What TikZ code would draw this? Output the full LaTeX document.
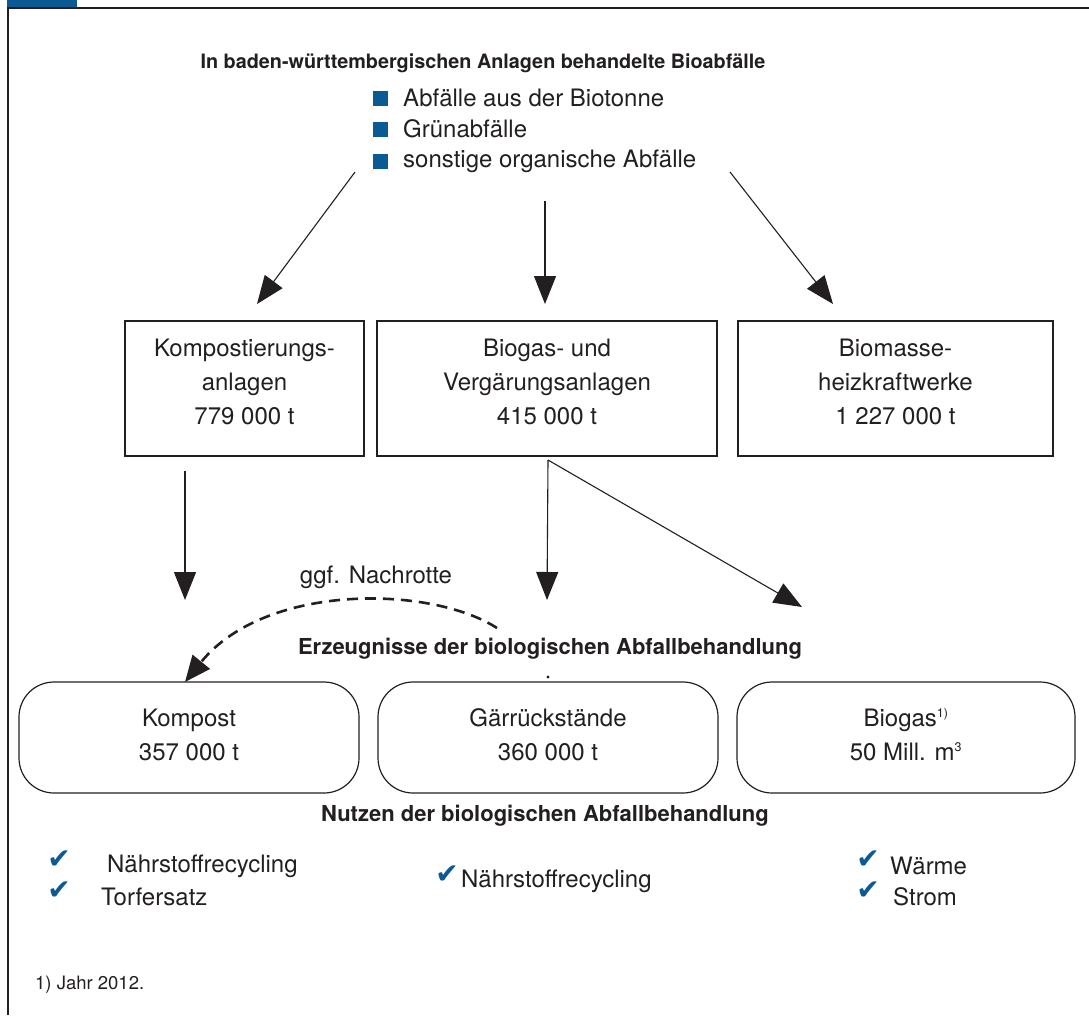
\documentclass[tikz,border=0pt]{standalone}
\usepackage{fontspec}
\setmainfont{TeX Gyre Heros}
\newfontfamily\symfont{DejaVu Sans}
\usetikzlibrary{arrows.meta,calc}
\definecolor{ink}{HTML}{231F20}
\definecolor{blu}{HTML}{0B5A94}
\begin{document}
\begin{tikzpicture}[x=1pt,y=-1pt,
  txt/.style={text=ink, font=\fontsize{24}{34}\selectfont, inner sep=0pt, align=center},
  btxt/.style={text=ink, font=\fontsize{22}{26}\selectfont\bfseries, inner sep=0pt},
  box/.style={draw=ink, line width=1.2pt, inner sep=0pt},
  rbox/.style={box, rounded corners=35pt},
  arr/.style={draw=ink, line width=1.1pt, -{Triangle[length=28pt,width=22pt]}},
  chk/.style={text=blu, font=\symfont\fontsize{28}{28}\selectfont, inner sep=0pt},
  sq/.style={fill=blu, minimum size=15pt, inner sep=0pt}
]
\useasboundingbox (0,0) rectangle (1089,1015);
% frame
\fill[blu] (7,0) rectangle (77,7);
\draw[ink, line width=1.5pt] (8,1015) -- (8,8) -- (1089,8);

% title and bullets
\node[btxt, font=\fontsize{19.8}{26}\selectfont\bfseries] (title) at (483,63) {In baden-württembergischen Anlagen behandelte Bioabfälle};
\node[sq] (s1) at (380,98) {};
\node[sq] (s2) at (380,129) {};
\node[sq] (s3) at (380,161) {};
\node[txt, anchor=west] (l1) at (403,98) {Abfälle aus der Biotonne};
\node[txt, anchor=west] (l2) at (403,129) {Grünabfälle};
\node[txt, anchor=west] (l3) at (403,161) {sonstige organische Abfälle};

% top boxes
\node[box, minimum width=239pt, minimum height=135pt] (k) at (244.5,388.5) {};
\node[box, minimum width=340pt, minimum height=135pt] (b) at (547,388.5) {};
\node[box, minimum width=315pt, minimum height=135pt] (h) at (895.5,388.5) {};
\node[txt] (kt) at ($(k)+(0,-7)$) {Kompostierungs-\\anlagen\\779 000 t};
\node[txt] (bt) at ($(b)+(0,-7)$) {Biogas- und\\Vergärungsanlagen\\415 000 t};
\node[txt] (ht) at ($(h)+(0,-7)$) {Biomasse-\\heizkraftwerke\\1 227 000 t};

% top arrows
\coordinate (a1s) at (355,172);
\coordinate (a1e) at (257,304);
\coordinate (a2s) at (545,201);
\coordinate (a2e) at (545,304);
\coordinate (a3s) at (730,172);
\coordinate (a3e) at (833,304);
\draw[arr] (a1s) -- (a1e);
\draw[arr] (a2s) -- (a2e);
\draw[arr] (a3s) -- (a3e);

% bottom boxes
\node[rbox, minimum width=340pt, minimum height=111pt] (kp) at (189,737.5) {};
\node[rbox, minimum width=340pt, minimum height=111pt] (gr) at (548,737.5) {};
\node[rbox, minimum width=338pt, minimum height=111pt] (bg) at (906,737.5) {};
\node[txt] (kpt) at ($(kp)+(0,-3)$) {Kompost\\357 000 t};
\node[txt] (grt) at ($(gr)+(0,-3)$) {Gärrückstände\\360 000 t};
\node[txt] (bgt) at ($(bg)+(0,-3)$) {Biogas\textsuperscript{\fontsize{12.5}{12}\selectfont 1)}\\50 Mill. m\textsuperscript{\fontsize{12.5}{12}\selectfont 3}};

% middle arrows
\coordinate (b1s) at (185,471);
\coordinate (b1e) at (185,600);
\coordinate (b2s) at (548,460);
\coordinate (b2e) at (547,600);
\coordinate (b3e) at (802,607);
\draw[arr] (b1s) -- (b1e);
\draw[arr] (b2s) -- (b2e);
\draw[arr] (b2s) -- (b3e);

% dashed curve
\coordinate (ds) at (497,628);
\coordinate (de) at (185,682);
\draw[draw=ink, line width=2.6pt, dash pattern=on 11pt off 7pt, -{Triangle[length=26pt,width=22pt]}]
  (ds) .. controls (430,585) and (265,583) .. (de);
\node[txt] (nach) at (376,577) {ggf. Nachrotte};

\node[btxt] (erz) at (550,649) {Erzeugnisse der biologischen Abfallbehandlung};
\fill[ink] (548,677) circle (1.6pt);

\node[btxt] (nutz) at (545,816) {Nutzen der biologischen Abfallbehandlung};

% checks
\node[chk] (c1) at (59,860) {✔};
\node[txt, anchor=west] (n1) at (107,866) {Nährstoffrecycling};
\node[chk] (c2) at (59,891) {✔};
\node[txt, anchor=west] (n2) at (101,897) {Torfersatz};
\node[chk] (c3) at (447,875) {✔};
\node[txt, anchor=west] (n3) at (461,881) {Nährstoffrecycling};
\node[chk] (c4) at (868,860) {✔};
\node[txt, anchor=west] (n4) at (890,866) {Wärme};
\node[chk] (c5) at (868,891) {✔};
\node[txt, anchor=west] (n5) at (893,897) {Strom};

\node[text=ink, font=\fontsize{18.5}{20}\selectfont, inner sep=0pt, anchor=west] (fn) at (35,985) {1) Jahr 2012.};
\end{tikzpicture}
\end{document}
